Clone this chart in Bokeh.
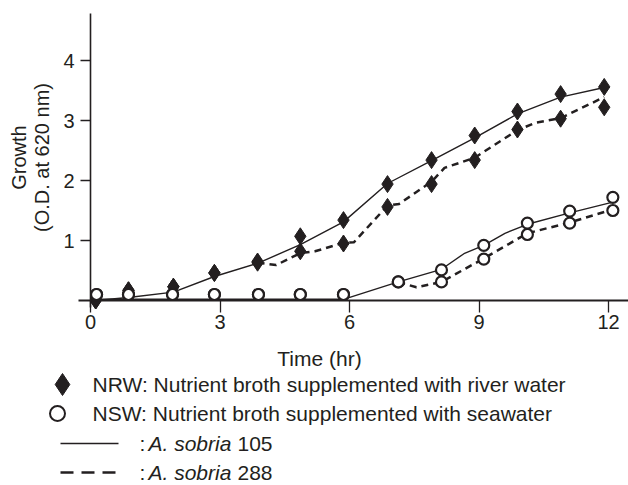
import math
from bokeh.plotting import figure
from bokeh.models import Range1d, LinearAxis, FixedTicker, Label
from bokeh.embed import file_html
from bokeh.resources import INLINE

# ---------------- data ----------------
x_ticks = [0, 3, 6, 9, 12]
y_ticks = [1, 2, 3, 4]

# NRW: Nutrient broth supplemented with river water (diamonds)
nrw_time = [0.12, 0.88, 1.92, 2.87, 3.87, 4.86, 5.86, 6.88, 7.90, 8.90, 9.89, 10.89, 11.90]
nrw_105 = [0.00, 0.17, 0.23, 0.46, 0.65, 1.07, 1.34, 1.94, 2.34, 2.75, 3.15, 3.44, 3.56]
nrw_288 = [0.00, 0.17, 0.23, 0.46, 0.63, 0.82, 0.95, 1.56, 1.94, 2.34, 2.85, 3.03, 3.22]

# NSW: Nutrient broth supplemented with seawater (open circles)
nsw_time = [0.14, 0.88, 1.90, 2.87, 3.89, 4.86, 5.86, 7.13, 8.13, 9.11, 10.12, 11.10, 12.10]
nsw_105 = [0.10, 0.10, 0.10, 0.10, 0.10, 0.10, 0.10, 0.31, 0.51, 0.92, 1.29, 1.49, 1.72]
nsw_288 = [0.10, 0.10, 0.10, 0.10, 0.10, 0.10, 0.10, 0.31, 0.31, 0.69, 1.10, 1.29, 1.50]

# fitted curves as drawn in the figure
nrw_105_fit_t = [0.12, 0.88, 1.92, 2.87, 3.87, 4.86, 5.86, 6.88, 7.90, 8.90, 9.89, 10.89, 11.90]
nrw_105_fit = [0.00, 0.05, 0.14, 0.40, 0.62, 0.93, 1.31, 1.95, 2.33, 2.71, 3.11, 3.39, 3.55]
nrw_288_fit_t = [3.87, 4.30, 4.86, 5.20, 5.86, 6.10, 6.88, 7.15, 7.90, 8.20, 8.90, 9.89, 10.30, 10.89, 11.90]
nrw_288_fit = [0.63, 0.59, 0.79, 0.82, 0.96, 0.97, 1.58, 1.61, 1.98, 2.21, 2.38, 2.84, 2.96, 3.04, 3.39]
nsw_105_fit_t = [0.12, 5.86, 7.13, 8.13, 8.65, 9.11, 9.60, 10.12, 11.10, 12.10]
nsw_105_fit = [0.02, 0.02, 0.31, 0.52, 0.78, 0.92, 1.12, 1.27, 1.46, 1.64]
nsw_288_fit_t = [7.13, 7.55, 8.13, 9.11, 10.12, 11.10, 12.10]
nsw_288_fit = [0.31, 0.22, 0.31, 0.70, 1.12, 1.30, 1.52]

x_title = "Time (hr)"
y_title_1 = "Growth"
y_title_2 = "(O.D. at 620 nm)"
legend_nrw = "NRW: Nutrient broth supplemented with river water"
legend_nsw = "NSW: Nutrient broth supplemented with seawater"
strain_name = "A. sobria"
strain_a = "105"
strain_b = "288"

# ---------------- layout / styling ----------------
INK = "#231f20"
FONT = "Liberation Sans"
W, H = 628, 485
X0_PX, X_SCALE = 90.0, 43.17   # pixel of t=0, pixels per hour
Y0_PX, Y_SCALE = 300.0, 60.0   # pixel of OD=0, pixels per unit


def hx(px):
    return (px - X0_PX) / X_SCALE


def vy(py):
    return (Y0_PX - py) / Y_SCALE


p = figure(width=W, height=H,
           x_range=Range1d(hx(0), hx(W)), y_range=Range1d(vy(H), vy(0)),
           x_axis_type=None, y_axis_type=None,
           toolbar_location=None, output_backend="svg",
           min_border_left=0, min_border_right=0, min_border_top=0, min_border_bottom=0)
p.outline_line_color = None
p.background_fill_color = "white"
p.border_fill_color = "white"

xaxis = LinearAxis(fixed_location=0, ticker=FixedTicker(ticks=x_ticks),
                   bounds=(hx(78), hx(W)))
yaxis = LinearAxis(fixed_location=0, ticker=FixedTicker(ticks=y_ticks),
                   bounds=(vy(307), vy(13)))
for ax in (xaxis, yaxis):
    ax.axis_line_color = INK
    ax.major_tick_line_color = INK
    ax.major_tick_line_width = 1.3
    ax.major_tick_in = 0
    ax.minor_tick_out = 0
    ax.minor_tick_in = 0
    ax.major_label_text_font = FONT
    ax.major_label_text_font_size = "20px"
    ax.major_label_text_color = INK
xaxis.axis_line_width = 2.2
xaxis.major_tick_out = 12
xaxis.major_label_standoff = 2
yaxis.axis_line_width = 1.6
yaxis.major_tick_out = 10
yaxis.major_label_standoff = 6
p.add_layout(xaxis, "below")
p.add_layout(yaxis, "left")

# curves
p.line(nsw_105_fit_t, nsw_105_fit, line_color=INK, line_width=1.4)
p.line(nsw_288_fit_t, nsw_288_fit, line_color=INK, line_width=2.5, line_dash="7 5")
p.line(nrw_105_fit_t, nrw_105_fit, line_color=INK, line_width=1.4)
p.line(nrw_288_fit_t, nrw_288_fit, line_color=INK, line_width=2.5, line_dash="7 5")

# markers
p.scatter(nrw_time, nrw_288, marker="diamond", size=17, fill_color=INK, line_color=INK)
p.scatter(nrw_time, nrw_105, marker="diamond", size=17, fill_color=INK, line_color=INK)
p.scatter(nsw_time, nsw_288, marker="circle", size=11, fill_color="white", line_color=INK, line_width=2.2)
p.scatter(nsw_time, nsw_105, marker="circle", size=11, fill_color="white", line_color=INK, line_width=2.2)


def add_text(px, py, txt, size="21px", style="normal", align="left", angle=0.0):
    p.add_layout(Label(x=hx(px), y=vy(py), text=txt, angle=angle,
                       text_align=align, text_baseline="middle",
                       text_font=FONT, text_font_size=size, text_font_style=style,
                       text_color=INK))


# axis titles
add_text(18, 157, y_title_1, size="20px", align="center", angle=math.pi / 2)
add_text(41, 157, y_title_2, size="20px", align="center", angle=math.pi / 2)
add_text(319, 358, x_title, align="center")

# legend
rows_y = [384, 413, 443, 472]
p.scatter([hx(62)], [vy(rows_y[0])], marker="diamond", size=22, fill_color=INK, line_color=INK)
p.scatter([hx(57)], [vy(rows_y[1])], marker="circle", size=15, fill_color="white",
          line_color=INK, line_width=2)
p.line([hx(60), hx(118)], [vy(rows_y[2])] * 2, line_color=INK, line_width=1.4)
p.line([hx(60), hx(116)], [vy(rows_y[3])] * 2, line_color=INK, line_width=2.6, line_dash="13 8")

add_text(92, rows_y[0], legend_nrw)
add_text(92, rows_y[1], legend_nsw)
for ry, num in ((rows_y[2], strain_a), (rows_y[3], strain_b)):
    add_text(139, ry, ":")
    add_text(148, ry, strain_name, style="italic")
    add_text(237, ry, num)

open("out.html", "w").write(file_html(p, INLINE))
